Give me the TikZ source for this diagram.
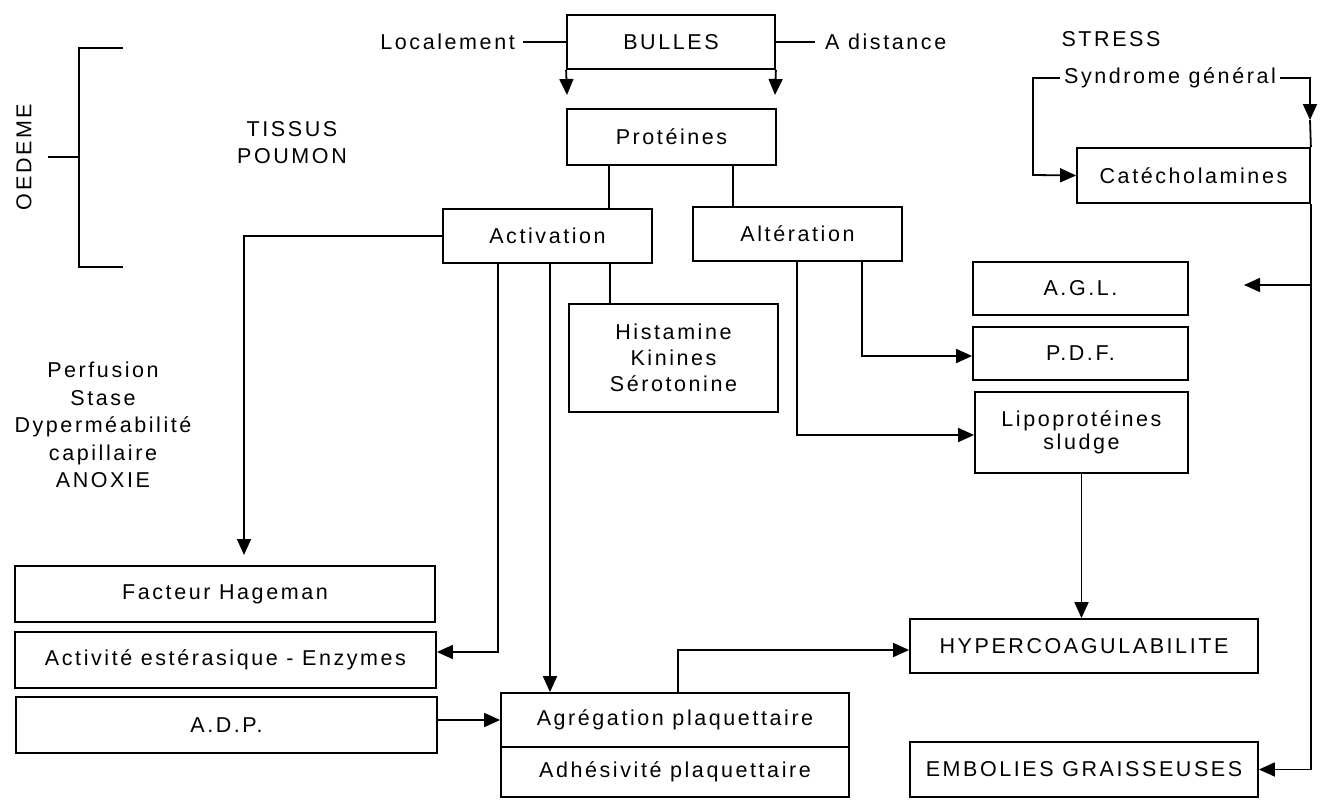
\documentclass[tikz,border=0pt]{standalone}
\usepackage{fontspec}
\setmainfont[LetterSpace=12]{Liberation Sans}
\usetikzlibrary{arrows.meta}
\newcommand\fsz{\fontsize{21.5}{26}\selectfont}
\begin{document}
\begin{tikzpicture}[x=1pt,y=-1pt,
  box/.style={draw, line width=1.8pt, inner sep=0pt, align=center, font=\fsz},
  lab/.style={inner sep=0pt, align=center, font=\fsz},
  ln/.style={line width=1.8pt},
  arr/.style={ln, -{Triangle[length=16pt,width=14pt]}},
]
\useasboundingbox[fill=white] (0,0) rectangle (1328,800);

% boxes
\node[box, minimum width=208pt, minimum height=54pt] (bulles) at (671,42) {BULLES};
\node[box, minimum width=209pt, minimum height=56pt] (prot) at (671.5,137) {Protéines};
\node[box, minimum width=209pt, minimum height=54pt] (activ) at (547.5,236) {Activation};
\node[box, minimum width=209pt, minimum height=54pt] (alter) at (797.5,234) {Altération};
\node[box, minimum width=209pt, minimum height=108pt, font=\fontsize{21.5}{26}\selectfont] (hist) at (673.5,358) {Histamine\\Kinines\\Sérotonine};
\node[box, minimum width=233pt, minimum height=55pt] (cat) at (1193.5,175.5) {Catécholamines};
\node[box, minimum width=215pt, minimum height=53pt] (agl) at (1080.5,288.5) {A.G.L.};
\node[box, minimum width=215pt, minimum height=53pt] (pdf) at (1080.5,353.5) {P.D.F.};
\node[box, minimum width=213pt, minimum height=81pt, font=\fontsize{21.5}{23}\selectfont] (lipo) at (1081.5,432.5) {Lipoprotéines\\sludge};
\node[box, minimum width=348pt, minimum height=54pt] (hyper) at (1084,646) {HYPERCOAGULABILITE};
\node[box, minimum width=348pt, minimum height=55pt] (emb) at (1084,769.5) {EMBOLIES GRAISSEUSES};
\node[box, minimum width=420pt, minimum height=56pt] (hag) at (225,594) {Facteur Hageman};
\node[box, minimum width=421pt, minimum height=56pt] (est) at (225.5,660) {Activité estérasique - Enzymes};
\node[box, minimum width=421pt, minimum height=56pt] (adp) at (226.5,725) {A.D.P.};
\node[box, minimum width=348pt, minimum height=54pt] (agr) at (675,720) {Agrégation plaquettaire};
\node[box, minimum width=348pt, minimum height=50pt] (adh) at (675,772) {Adhésivité plaquettaire};

% free labels
\node[lab, anchor=east] (loc) at (515,42) {Localement};
\node[lab, anchor=west] (dist) at (825,42) {A distance};
\node[lab] (stress) at (1111,39) {STRESS};
\node[lab] (synd) at (1170,78) {Syndrome général};
\node[lab, font=\fontsize{21.5}{27}\selectfont] (tissus) at (292,143) {TISSUS\\POUMON};
\node[lab, font=\fontsize{21.5}{27.5}\selectfont] (perf) at (103,425) {Perfusion\\Stase\\Dyperméabilité\\capillaire\\ANOXIE};
\node[lab, rotate=90] (oed) at (24,157) {OEDEME};

% bracket
\draw[ln] (123,48) -- (79,48) -- (79,267) -- (123,267);
\draw[ln] (48,157) -- (79,157);

% top
\draw[ln] (loc.east) ++(8,0) -- (bulles.west);
\draw[ln] (bulles.east) -- (815,42);
\coordinate (b1) at (567,95);
\coordinate (b2) at (775,95);
\draw[arr] (bulles.south west) -- (b1);
\draw[arr] (bulles.south east) -- (b2);

% proteines to activation / alteration
\draw[ln] (prot.south -| 609,0) -- (activ.north -| 609,0);
\draw[ln] (prot.south -| 733,0) -- (alter.north -| 733,0);

% activation outputs
\draw[arr] (activ.west) -- (244,236) -- (244,555);
\draw[arr] (activ.south -| 498,0) -- (498,652) -- (est.east |- 0,652);
\draw[arr] (activ.south -| 550,0) -- (agr.north -| 550,0);
\draw[ln] (activ.south -| 610,0) -- (hist.north -| 610,0);

% alteration outputs
\draw[arr] (alter.south -| 862,0) -- (862,356) -- (pdf.west |- 0,356);
\draw[arr] (alter.south -| 797,0) -- (797,435) -- (lipo.west |- 0,435);

% lipo -> hyper
\draw[arr] (lipo.south) -- (lipo.south |- hyper.north);

% adp -> agregation
\draw[arr] (adp.east |- agr.west) -- (agr.west);

% agregation -> hyper
\draw[arr] (agr.north -| 678,0) -- (678,650) -- (hyper.west |- 0,650);

% stress
\coordinate (s1) at (1310,120);
\draw[arr] (synd.west) ++(-4,0) -- (1033,78) -- (1033,175) -- (cat.west);
\draw[arr] (synd.east) ++(4,0) -- (1310,78) -- (s1);
\draw[ln] (s1) -- (cat.north east);

% right side
\coordinate (agltip) at (1244,285);
\draw[arr] (cat.south east) -- (emb.east -| cat.south east) -- (emb.east);
\draw[arr] (1310,285) -- (agltip);
\end{tikzpicture}
\end{document}
